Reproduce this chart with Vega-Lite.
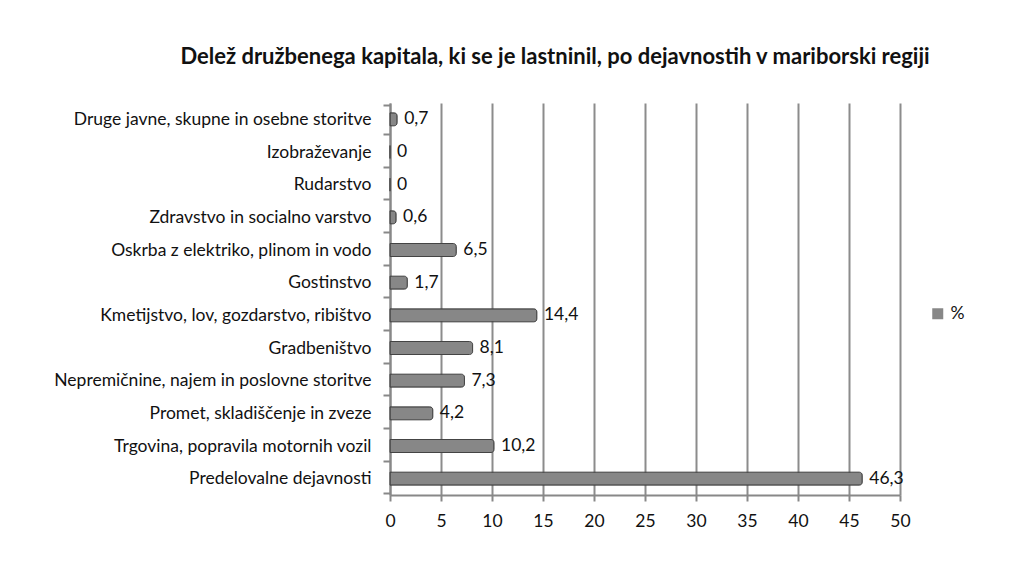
{
  "$schema": "https://vega.github.io/schema/vega-lite/v6.json",
  "width": 510,
  "height": 392,
  "autosize": {"type": "none"},
  "padding": {"left": 390, "top": 103, "right": 120, "bottom": 73},
  "background": "white",
  "config": {
    "font": "Lato",
    "view": {"stroke": null},
    "locale": {"number": {"decimal": ",", "thousands": ".", "grouping": [3], "currency": ["", " €"]}}
  },
  "title": {
    "text": "Delež družbenega kapitala, ki se je lastninil, po dejavnostih v mariborski regiji",
    "font": "Lato",
    "fontSize": 22,
    "fontWeight": "bold",
    "color": "#111111",
    "anchor": "middle",
    "frame": "group",
    "dx": -90,
    "offset": 25
  },
  "data": {
    "values": [
      {"kategorija": "Druge javne, skupne in osebne storitve", "vrednost": 0.7, "serija": "%"},
      {"kategorija": "Izobraževanje", "vrednost": 0, "serija": "%"},
      {"kategorija": "Rudarstvo", "vrednost": 0, "serija": "%"},
      {"kategorija": "Zdravstvo in socialno varstvo", "vrednost": 0.6, "serija": "%"},
      {"kategorija": "Oskrba z elektriko, plinom in vodo", "vrednost": 6.5, "serija": "%"},
      {"kategorija": "Gostinstvo", "vrednost": 1.7, "serija": "%"},
      {"kategorija": "Kmetijstvo, lov, gozdarstvo, ribištvo", "vrednost": 14.4, "serija": "%"},
      {"kategorija": "Gradbeništvo", "vrednost": 8.1, "serija": "%"},
      {"kategorija": "Nepremičnine, najem in poslovne storitve", "vrednost": 7.3, "serija": "%"},
      {"kategorija": "Promet, skladiščenje in zveze", "vrednost": 4.2, "serija": "%"},
      {"kategorija": "Trgovina, popravila motornih vozil", "vrednost": 10.2, "serija": "%"},
      {"kategorija": "Predelovalne dejavnosti", "vrednost": 46.3, "serija": "%"}
    ]
  },
  "encoding": {
    "y": {
      "field": "kategorija",
      "type": "nominal",
      "sort": null,
      "title": null,
      "axis": {
        "labelFont": "Lato",
        "labelFontSize": 17.5,
        "labelColor": "#111111",
        "labelPadding": 12,
        "tickBand": "extent",
        "tickSize": 7,
        "tickColor": "#888888",
        "tickWidth": 2,
        "domainColor": "#888888",
        "domainWidth": 2,
        "labelLimit": 400
      }
    },
    "x": {
      "field": "vrednost",
      "type": "quantitative",
      "scale": {"domain": [0, 50], "nice": false},
      "title": null,
      "axis": {
        "values": [0, 5, 10, 15, 20, 25, 30, 35, 40, 45, 50],
        "labelFlush": false,
        "labelFont": "Lato",
        "labelFontSize": 17.5,
        "labelColor": "#111111",
        "labelPadding": 11,
        "tickSize": 6,
        "tickColor": "#888888",
        "tickWidth": 2,
        "domainColor": "#888888",
        "domainWidth": 2,
        "grid": true,
        "gridColor": "#8c8c8c",
        "gridWidth": 2
      }
    }
  },
  "layer": [
    {
      "mark": {"type": "bar", "size": 13, "stroke": "#444444", "strokeWidth": 1, "cornerRadiusEnd": 3},
      "encoding": {
        "color": {
          "field": "serija",
          "type": "nominal",
          "scale": {"range": ["#878787"]},
          "legend": {
            "title": null,
            "orient": "none",
            "legendX": 539,
            "legendY": 202,
            "symbolType": "square",
            "symbolSize": 121,
            "symbolStrokeWidth": 0,
            "labelFont": "Lato",
            "labelFontSize": 17.5,
            "labelColor": "#111111"
          }
        }
      }
    },
    {
      "mark": {"type": "text", "align": "left", "baseline": "middle", "dx": 7, "font": "Lato", "fontSize": 17.5, "color": "#111111"},
      "encoding": {
        "text": {"field": "vrednost", "type": "quantitative", "format": ".1~f"}
      }
    }
  ]
}
